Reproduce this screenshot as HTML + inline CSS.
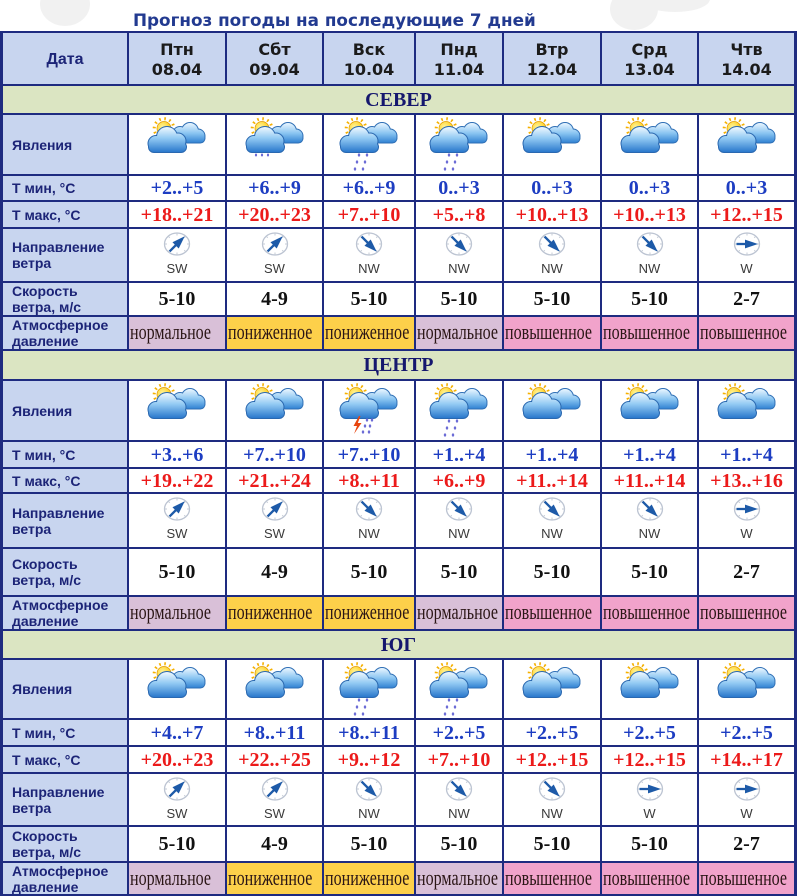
<!DOCTYPE html>
<html><head><meta charset="utf-8">
<style>
*{margin:0;padding:0;box-sizing:border-box}
body{width:800px;height:896px;background:#fff;position:relative;overflow:hidden;font-family:"Liberation Sans",sans-serif}
.bg{position:absolute;background:#f1f1f1;border-radius:50%}
.ttl{position:absolute;left:133px;top:10px;font:bold 16.8px/20px "DejaVu Sans","Liberation Sans",sans-serif;color:#223a90;white-space:nowrap}
#t{position:absolute;left:0;top:31px;width:797px;height:865px;padding:2px 3px;background:#1e2b80;display:grid;
grid-template-columns:124px 96px 95px 90px 86px 96px 95px 95px;gap:2px;
grid-template-rows:51px 27px 59px 24px 25px 52px 32px 32px 28px 59px 25px 23px 53px 46px 32px 27px 58px 25px 25px 51px 34px 31px}
#t>div{overflow:hidden}
.l{background:#c8d5ef;color:#1c2477;font:bold 14px/16px "Liberation Sans",sans-serif;display:flex;align-items:center;padding-left:9px;white-space:nowrap}
.hd{background:#c8d5ef;display:block;text-align:center;padding-top:7px;font:bold 16px/20px "DejaVu Sans","Liberation Sans",sans-serif;color:#1b1b1b}
.hd span{display:block}
.dt{background:#c8d5ef;display:flex;align-items:center;justify-content:center;font:bold 16px/20px "Liberation Sans",sans-serif;color:#1c2477;padding-top:3px}
.s{grid-column:1/-1;background:#dbe5c2;display:flex;align-items:center;justify-content:center;font:bold 20px/20px "Liberation Serif",serif;color:#15176e}
.i{background:#fff;display:flex;justify-content:center;align-items:flex-start;padding-top:2px}
.n,.x,.v{background:#fff;display:flex;align-items:center;justify-content:center;font:bold 20px/20px "Liberation Serif",serif;white-space:nowrap}
.n{color:#1d3dc2}.x{color:#ec1a1a}.v{color:#111}
.w{background:#fff;display:flex;flex-direction:column;align-items:center;padding-top:3px;font:13px/13px "Liberation Sans",sans-serif;color:#3a3a3a}
.w span{margin-top:6px}
.p{display:flex;align-items:center;padding-left:1px;font:22px/22px "Liberation Serif",serif;color:#2b1616;white-space:nowrap}
.p span{display:inline-block;transform:scaleX(.73);transform-origin:0 50%;margin-top:-2px}
.pn{background:#d9c0d8}.pl{background:#fdd04a}.ph{background:#f1a3cb}
</style></head>
<body>
<svg width="0" height="0" style="position:absolute">
<defs>
<linearGradient id="gb" x1="0" y1="6" x2="0" y2="26" gradientUnits="userSpaceOnUse">
<stop offset="0" stop-color="#eaf6ff"/><stop offset=".5" stop-color="#8cc6f2"/><stop offset="1" stop-color="#2f80d2"/>
</linearGradient>
<linearGradient id="gf" x1="0" y1="10" x2="0" y2="35" gradientUnits="userSpaceOnUse">
<stop offset="0" stop-color="#f0f8ff"/><stop offset=".45" stop-color="#92caf3"/><stop offset="1" stop-color="#2a78cc"/>
</linearGradient>
<radialGradient id="gs" cx=".4" cy=".4" r=".7"><stop offset="0" stop-color="#fff6a0"/><stop offset="1" stop-color="#ffc400"/></radialGradient>
<g id="cb"><circle cx="33" cy="17" r="7"/><circle cx="43" cy="14" r="8"/><circle cx="51" cy="19" r="6.5"/><rect x="28" y="17" width="29.5" height="8.5" rx="4.2"/></g>
<g id="cf"><circle cx="9" cy="26.5" r="7.5"/><circle cx="20" cy="20" r="10"/><circle cx="31" cy="24" r="7.5"/><rect x="2" y="25" width="37" height="10" rx="5"/></g>
<g id="sun"><circle cx="17" cy="11.5" r="9.8" fill="none" stroke="#f5b000" stroke-width="3" stroke-dasharray="1.6 3.53"/><circle cx="17" cy="11.5" r="7" fill="url(#gs)" stroke="#e09a00" stroke-width=".7"/></g>
<g id="pc">
<use href="#sun"/>
<use href="#cb" fill="#2f6fb5" stroke="#2f6fb5" stroke-width="2"/>
<use href="#cb" fill="url(#gb)"/>
<use href="#cf" fill="#2a68b0" stroke="#2a68b0" stroke-width="2"/>
<use href="#cf" fill="url(#gf)"/>
</g>
<g id="rl" fill="#6c6cd6"><ellipse cx="11" cy="38" rx="1.1" ry="1.5"/><ellipse cx="17" cy="38" rx="1.1" ry="1.5"/><ellipse cx="23" cy="38" rx="1.1" ry="1.5"/></g>
<g id="rh" fill="#6c6cd6"><ellipse cx="20" cy="38" rx="1.2" ry="1.6"/><ellipse cx="28" cy="38" rx="1.2" ry="1.6"/><ellipse cx="18" cy="45" rx="1.2" ry="1.6"/><ellipse cx="26" cy="45" rx="1.2" ry="1.6"/><ellipse cx="16" cy="52" rx="1.2" ry="1.6"/><ellipse cx="24" cy="52" rx="1.2" ry="1.6"/></g>
<g id="th"><path d="M20 33L14.5 43H18L15 51L22.5 40H18.8L21.5 33Z" fill="#e8450f"/><g fill="#6c6cd6"><ellipse cx="28" cy="37" rx="1.2" ry="1.6"/><ellipse cx="33" cy="37" rx="1.2" ry="1.6"/><ellipse cx="26" cy="43" rx="1.2" ry="1.6"/><ellipse cx="31" cy="43" rx="1.2" ry="1.6"/><ellipse cx="24" cy="49" rx="1.2" ry="1.6"/><ellipse cx="30" cy="49" rx="1.2" ry="1.6"/></g></g>
<g id="cmp"><ellipse cx="14" cy="12" rx="12.5" ry="11" fill="#fff" stroke="#bcc4d2" stroke-width="1.3"/><path d="M14 1v2.5M14 23v-2.5M1.5 12h2.5M26.5 12h-2.5M5.2 4.2l1.6 1.6M22.8 4.2l-1.6 1.6M5.2 19.8l1.6-1.6M22.8 19.8l-1.6-1.6" stroke="#c4cbd6" stroke-width="1"/></g>
<g id="ar" fill="#1d5aa8"><path d="M3.5 12H14" stroke="#1d5aa8" stroke-width="2.3"/><path d="M12 7.6L25 12 12 16.4Z"/></g>
</defs>
</svg>

<div class="bg" style="left:40px;top:-18px;width:50px;height:44px"></div>
<div class="bg" style="left:610px;top:-12px;width:48px;height:42px"></div>
<div class="bg" style="left:640px;top:-14px;width:70px;height:26px"></div>

<div class="ttl">Прогноз погоды на последующие 7 дней</div>

<div id="t">
<div class="dt">Дата</div>
<div class="hd"><span>Птн</span><span>08.04</span></div>
<div class="hd"><span>Сбт</span><span>09.04</span></div>
<div class="hd"><span>Вск</span><span>10.04</span></div>
<div class="hd"><span>Пнд</span><span>11.04</span></div>
<div class="hd"><span>Втр</span><span>12.04</span></div>
<div class="hd"><span>Срд</span><span>13.04</span></div>
<div class="hd"><span>Чтв</span><span>14.04</span></div>

<!-- СЕВЕР -->
<div class="s">СЕВЕР</div>
<div class="l">Явления</div>
<div class="i"><svg width="60" height="56"><use href="#pc"/></svg></div>
<div class="i"><svg width="60" height="56"><use href="#pc"/><use href="#rl"/></svg></div>
<div class="i"><svg width="60" height="56"><use href="#pc"/><use href="#rh"/></svg></div>
<div class="i"><svg width="60" height="56"><use href="#pc"/><use href="#rh"/></svg></div>
<div class="i"><svg width="60" height="56"><use href="#pc"/></svg></div>
<div class="i"><svg width="60" height="56"><use href="#pc"/></svg></div>
<div class="i"><svg width="60" height="56"><use href="#pc"/></svg></div>
<div class="l">Т мин, °C</div>
<div class="n">+2..+5</div><div class="n">+6..+9</div><div class="n">+6..+9</div><div class="n">0..+3</div><div class="n">0..+3</div><div class="n">0..+3</div><div class="n">0..+3</div>
<div class="l">Т макс, °C</div>
<div class="x">+18..+21</div><div class="x">+20..+23</div><div class="x">+7..+10</div><div class="x">+5..+8</div><div class="x">+10..+13</div><div class="x">+10..+13</div><div class="x">+12..+15</div>
<div class="l">Направление<br>ветра</div>
<div class="w"><svg width="28" height="24"><use href="#cmp"/><use href="#ar" transform="rotate(-45 14 12)"/></svg><span>SW</span></div>
<div class="w"><svg width="28" height="24"><use href="#cmp"/><use href="#ar" transform="rotate(-45 14 12)"/></svg><span>SW</span></div>
<div class="w"><svg width="28" height="24"><use href="#cmp"/><use href="#ar" transform="rotate(45 14 12)"/></svg><span>NW</span></div>
<div class="w"><svg width="28" height="24"><use href="#cmp"/><use href="#ar" transform="rotate(45 14 12)"/></svg><span>NW</span></div>
<div class="w"><svg width="28" height="24"><use href="#cmp"/><use href="#ar" transform="rotate(45 14 12)"/></svg><span>NW</span></div>
<div class="w"><svg width="28" height="24"><use href="#cmp"/><use href="#ar" transform="rotate(45 14 12)"/></svg><span>NW</span></div>
<div class="w"><svg width="28" height="24"><use href="#cmp"/><use href="#ar"/></svg><span>W</span></div>
<div class="l">Скорость<br>ветра, м/с</div>
<div class="v">5-10</div><div class="v">4-9</div><div class="v">5-10</div><div class="v">5-10</div><div class="v">5-10</div><div class="v">5-10</div><div class="v">2-7</div>
<div class="l">Атмосферное<br>давление</div>
<div class="p pn"><span>нормальное</span></div><div class="p pl"><span>пониженное</span></div><div class="p pl"><span>пониженное</span></div><div class="p pn"><span>нормальное</span></div><div class="p ph"><span>повышенное</span></div><div class="p ph"><span>повышенное</span></div><div class="p ph"><span>повышенное</span></div>

<!-- ЦЕНТР -->
<div class="s">ЦЕНТР</div>
<div class="l">Явления</div>
<div class="i"><svg width="60" height="56"><use href="#pc"/></svg></div>
<div class="i"><svg width="60" height="56"><use href="#pc"/></svg></div>
<div class="i"><svg width="60" height="56"><use href="#pc"/><use href="#th"/></svg></div>
<div class="i"><svg width="60" height="56"><use href="#pc"/><use href="#rh"/></svg></div>
<div class="i"><svg width="60" height="56"><use href="#pc"/></svg></div>
<div class="i"><svg width="60" height="56"><use href="#pc"/></svg></div>
<div class="i"><svg width="60" height="56"><use href="#pc"/></svg></div>
<div class="l">Т мин, °C</div>
<div class="n">+3..+6</div><div class="n">+7..+10</div><div class="n">+7..+10</div><div class="n">+1..+4</div><div class="n">+1..+4</div><div class="n">+1..+4</div><div class="n">+1..+4</div>
<div class="l">Т макс, °C</div>
<div class="x">+19..+22</div><div class="x">+21..+24</div><div class="x">+8..+11</div><div class="x">+6..+9</div><div class="x">+11..+14</div><div class="x">+11..+14</div><div class="x">+13..+16</div>
<div class="l">Направление<br>ветра</div>
<div class="w"><svg width="28" height="24"><use href="#cmp"/><use href="#ar" transform="rotate(-45 14 12)"/></svg><span>SW</span></div>
<div class="w"><svg width="28" height="24"><use href="#cmp"/><use href="#ar" transform="rotate(-45 14 12)"/></svg><span>SW</span></div>
<div class="w"><svg width="28" height="24"><use href="#cmp"/><use href="#ar" transform="rotate(45 14 12)"/></svg><span>NW</span></div>
<div class="w"><svg width="28" height="24"><use href="#cmp"/><use href="#ar" transform="rotate(45 14 12)"/></svg><span>NW</span></div>
<div class="w"><svg width="28" height="24"><use href="#cmp"/><use href="#ar" transform="rotate(45 14 12)"/></svg><span>NW</span></div>
<div class="w"><svg width="28" height="24"><use href="#cmp"/><use href="#ar" transform="rotate(45 14 12)"/></svg><span>NW</span></div>
<div class="w"><svg width="28" height="24"><use href="#cmp"/><use href="#ar"/></svg><span>W</span></div>
<div class="l">Скорость<br>ветра, м/с</div>
<div class="v">5-10</div><div class="v">4-9</div><div class="v">5-10</div><div class="v">5-10</div><div class="v">5-10</div><div class="v">5-10</div><div class="v">2-7</div>
<div class="l">Атмосферное<br>давление</div>
<div class="p pn"><span>нормальное</span></div><div class="p pl"><span>пониженное</span></div><div class="p pl"><span>пониженное</span></div><div class="p pn"><span>нормальное</span></div><div class="p ph"><span>повышенное</span></div><div class="p ph"><span>повышенное</span></div><div class="p ph"><span>повышенное</span></div>

<!-- ЮГ -->
<div class="s">ЮГ</div>
<div class="l">Явления</div>
<div class="i"><svg width="60" height="56"><use href="#pc"/></svg></div>
<div class="i"><svg width="60" height="56"><use href="#pc"/></svg></div>
<div class="i"><svg width="60" height="56"><use href="#pc"/><use href="#rh"/></svg></div>
<div class="i"><svg width="60" height="56"><use href="#pc"/><use href="#rh"/></svg></div>
<div class="i"><svg width="60" height="56"><use href="#pc"/></svg></div>
<div class="i"><svg width="60" height="56"><use href="#pc"/></svg></div>
<div class="i"><svg width="60" height="56"><use href="#pc"/></svg></div>
<div class="l">Т мин, °C</div>
<div class="n">+4..+7</div><div class="n">+8..+11</div><div class="n">+8..+11</div><div class="n">+2..+5</div><div class="n">+2..+5</div><div class="n">+2..+5</div><div class="n">+2..+5</div>
<div class="l">Т макс, °C</div>
<div class="x">+20..+23</div><div class="x">+22..+25</div><div class="x">+9..+12</div><div class="x">+7..+10</div><div class="x">+12..+15</div><div class="x">+12..+15</div><div class="x">+14..+17</div>
<div class="l">Направление<br>ветра</div>
<div class="w"><svg width="28" height="24"><use href="#cmp"/><use href="#ar" transform="rotate(-45 14 12)"/></svg><span>SW</span></div>
<div class="w"><svg width="28" height="24"><use href="#cmp"/><use href="#ar" transform="rotate(-45 14 12)"/></svg><span>SW</span></div>
<div class="w"><svg width="28" height="24"><use href="#cmp"/><use href="#ar" transform="rotate(45 14 12)"/></svg><span>NW</span></div>
<div class="w"><svg width="28" height="24"><use href="#cmp"/><use href="#ar" transform="rotate(45 14 12)"/></svg><span>NW</span></div>
<div class="w"><svg width="28" height="24"><use href="#cmp"/><use href="#ar" transform="rotate(45 14 12)"/></svg><span>NW</span></div>
<div class="w"><svg width="28" height="24"><use href="#cmp"/><use href="#ar"/></svg><span>W</span></div>
<div class="w"><svg width="28" height="24"><use href="#cmp"/><use href="#ar"/></svg><span>W</span></div>
<div class="l">Скорость<br>ветра, м/с</div>
<div class="v">5-10</div><div class="v">4-9</div><div class="v">5-10</div><div class="v">5-10</div><div class="v">5-10</div><div class="v">5-10</div><div class="v">2-7</div>
<div class="l">Атмосферное<br>давление</div>
<div class="p pn"><span>нормальное</span></div><div class="p pl"><span>пониженное</span></div><div class="p pl"><span>пониженное</span></div><div class="p pn"><span>нормальное</span></div><div class="p ph"><span>повышенное</span></div><div class="p ph"><span>повышенное</span></div><div class="p ph"><span>повышенное</span></div>
</div>
</body></html>
